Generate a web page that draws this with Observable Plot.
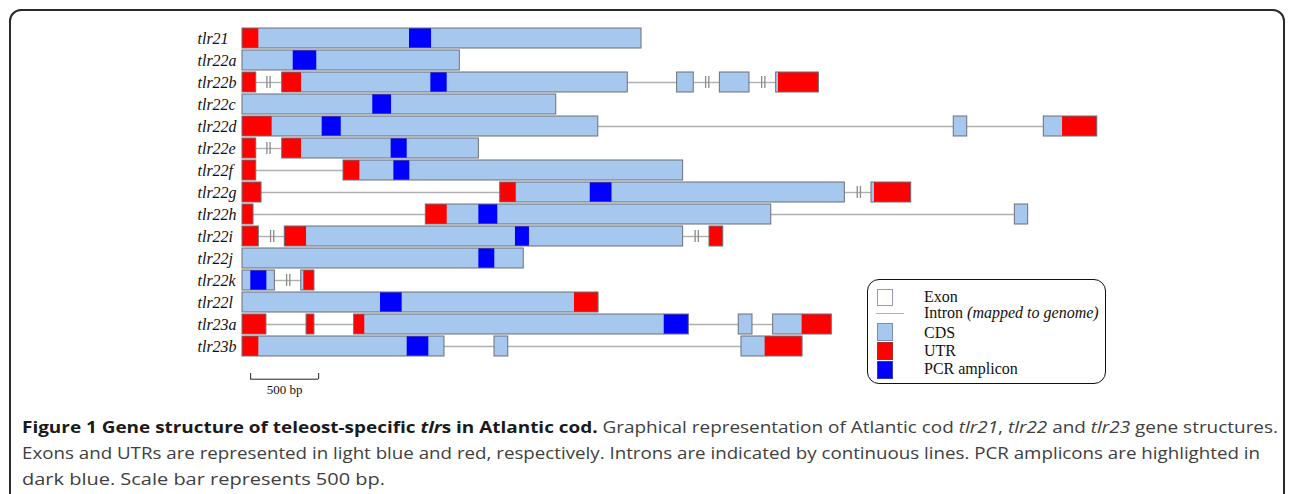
<!DOCTYPE html>
<html><head><meta charset="utf-8">
<script src="https://cdn.jsdelivr.net/npm/d3@7"></script>
<script src="https://cdn.jsdelivr.net/npm/@observablehq/plot@0.6"></script>
<style>
html,body{margin:0;padding:0;background:#fff;}
body{width:1290px;height:494px;overflow:hidden;position:relative;}
#frame{position:absolute;left:9px;top:9px;width:1276px;height:600px;border:2px solid #2a2a2a;border-radius:12px;box-sizing:border-box;}
#chart{position:absolute;left:0;top:0;}
#legend{position:absolute;left:867px;top:279px;width:239px;height:105px;border:1.6px solid #111;border-radius:12px;box-sizing:border-box;font-family:"Liberation Serif",serif;font-size:16px;color:#111;}
#legend .sw{position:absolute;left:9px;width:16px;box-sizing:border-box;}
#legend .tx{position:absolute;left:56px;line-height:18px;white-space:nowrap;}
#caption{position:absolute;left:22px;top:414px;font-family:"Open Sans",sans-serif;font-size:16px;line-height:26px;color:#404040;}
#caption div{white-space:nowrap;transform-origin:0 50%;}
#caption b{color:#1a1a1a;}
</style>
</head><body>
<div id="frame"></div>
<div id="chart"></div>
<div id="legend"></div>
<div id="caption"></div>
<script>
// gene rows (top to bottom)
const genes = ["tlr21","tlr22a","tlr22b","tlr22c","tlr22d","tlr22e","tlr22f","tlr22g","tlr22h","tlr22i","tlr22j","tlr22k","tlr22l","tlr23a","tlr23b"];

// exons: [gene, start bp, end bp]
const exons = [
  ["tlr21",0,2934],
  ["tlr22a",0,1598],
  ["tlr22b",0,101],["tlr22b",292,2833],["tlr22b",3196,3318],["tlr22b",3510,3728],["tlr22b",3924,4238],
  ["tlr22c",0,2307],
  ["tlr22d",0,2616],["tlr22d",5230,5329],["tlr22d",5892,6285],
  ["tlr22e",0,101],["tlr22e",292,1738],
  ["tlr22f",0,101],["tlr22f",743,3240],
  ["tlr22g",0,140],["tlr22g",1895,4429],["tlr22g",4625,4917],
  ["tlr22h",0,81],["tlr22h",1348,3888],["tlr22h",5679,5777],
  ["tlr22i",0,120],["tlr22i",311,3240],["tlr22i",3434,3535],
  ["tlr22j",0,2068],
  ["tlr22k",0,238],["tlr22k",432,529],
  ["tlr22l",0,2618],
  ["tlr23a",0,176],["tlr23a",471,529],["tlr23a",821,3282],["tlr23a",3649,3750],["tlr23a",3902,4333],
  ["tlr23b",0,1485],["tlr23b",1853,1954],["tlr23b",3669,4118]
];

// UTR segments: [gene, start, end]
const utrs = [
  ["tlr21",0,120],
  ["tlr22b",0,101],["tlr22b",292,434],["tlr22b",3941,4238],
  ["tlr22d",0,218],["tlr22d",6030,6285],
  ["tlr22e",0,101],["tlr22e",292,434],
  ["tlr22f",0,101],["tlr22f",743,863],
  ["tlr22g",0,140],["tlr22g",1895,2013],["tlr22g",4647,4917],
  ["tlr22h",0,81],["tlr22h",1348,1505],
  ["tlr22i",0,120],["tlr22i",311,471],["tlr22i",3434,3535],
  ["tlr22k",451,529],
  ["tlr22l",2441,2618],
  ["tlr23a",0,176],["tlr23a",471,529],["tlr23a",821,899],["tlr23a",4115,4333],
  ["tlr23b",0,120],["tlr23b",3843,4118]
];

// PCR amplicons: [gene, start, end]
const amplicons = [
  ["tlr21",1228,1390],["tlr22a",373,546],["tlr22b",1385,1505],["tlr22c",958,1096],
  ["tlr22d",586,726],["tlr22e",1093,1211],["tlr22f",1113,1230],["tlr22g",2557,2717],
  ["tlr22h",1738,1877],["tlr22i",2007,2110],["tlr22j",1738,1855],["tlr22k",61,179],
  ["tlr22l",1015,1174],["tlr23a",3101,3282],["tlr23b",1211,1370]
];

// unmapped intron breaks: [gene, position]
const breaks = [
  ["tlr22b",191],["tlr22b",3417],["tlr22b",3829],
  ["tlr22e",191],
  ["tlr22g",4532],
  ["tlr22i",218],["tlr22i",3340],
  ["tlr22k",336]
];

const scaleBar = [{start:60, end:560, label:"500 bp"}];
const xMax = 7706;

const toObj = a => ({gene:a[0], start:a[1], end:a[2]});
const exonData = exons.map(toObj);
const utrData = utrs.map(toObj);
const pcrData = amplicons.map(toObj);
const breakData = breaks.map(a => ({gene:a[0], pos:a[1]}));
const introns = [];
for (const g of genes) {
  const ex = exonData.filter(d => d.gene === g).sort((a,b)=>a.start-b.start);
  for (let i = 1; i < ex.length; i++) introns.push({gene:g, start:ex[i-1].end, end:ex[i].start});
}

const H = 400;
const plot = Plot.plot({
  width: 1290, height: H,
  marginLeft: 242, marginRight: 0, marginTop: 24.1, marginBottom: H - 24.1 - 16*22.4,
  x: {domain: [0, xMax], axis: null},
  y: {domain: [...genes, "scale"], paddingInner: 0.1, paddingOuter: 0.05, axis: null},
  marks: [
    Plot.ruleY(introns, {x1:"start", x2:"end", y:"gene", stroke:"#b0b0b0", strokeWidth:1.4}),
    Plot.tickX(breakData, {x:"pos", y:"gene", stroke:"#8a8a8a", strokeWidth:1.3, insetTop:4, insetBottom:4, dx:-1.6}),
    Plot.tickX(breakData, {x:"pos", y:"gene", stroke:"#8a8a8a", strokeWidth:1.3, insetTop:4, insetBottom:4, dx:1.6}),
    Plot.barX(exonData, {x1:"start", x2:"end", y:"gene", fill:"#a7c8ee", insetLeft:0, insetRight:0}),
    Plot.barX(utrData, {x1:"start", x2:"end", y:"gene", fill:"#ff0000"}),
    Plot.barX(pcrData, {x1:"start", x2:"end", y:"gene", fill:"#0000ff"}),
    Plot.barX(exonData, {x1:"start", x2:"end", y:"gene", fill:"none", stroke:"#6b6f78", strokeWidth:1}),
    Plot.text(genes, {y: d => d, text: d => d, frameAnchor:"left", textAnchor:"start", dx:-45,
      fontFamily:"Liberation Serif", fontStyle:"italic", fontSize:16, fill:"#111"}),
    Plot.ruleY(scaleBar, {x1:"start", x2:"end", y:() => "scale", dy:10.7, stroke:"#222", strokeWidth:1}),
    Plot.tickX(scaleBar, {x:"start", y:() => "scale", insetTop:14, insetBottom:0, dy:1, stroke:"#222"}),
    Plot.tickX(scaleBar, {x:"end", y:() => "scale", insetTop:14, insetBottom:0, dy:1, stroke:"#222"}),
    Plot.text(scaleBar, {x: d => (d.start + d.end)/2, y: () => "scale", text:"label", dy:21,
      fontFamily:"Liberation Serif", fontSize:13, fill:"#111"})
  ]
});
document.getElementById("chart").appendChild(plot);

// legend
const lg = document.getElementById("legend");
const rows = [
  {sw:"border:1.5px solid #8e9cc4;background:#fff;top:9px;height:17px;", ty:8, html:"Exon"},
  {sw:"border-top:1.4px solid #b4b4b4;top:33px;height:0;left:8px;width:28px;", ty:24, html:"Intron <i>(mapped to genome)</i>"},
  {sw:"border:1.2px solid #7f8ea8;background:#a7c8ee;top:43px;height:18px;", ty:44, html:"CDS"},
  {sw:"border:1px solid #a03030;background:#ff0000;top:62px;height:18px;", ty:62, html:"UTR"},
  {sw:"border:1px solid #3040a0;background:#0000ff;top:81px;height:18px;", ty:80, html:"PCR amplicon"}
];
rows.forEach(r => {
  const s = document.createElement("div"); s.className = "sw"; s.style.cssText = r.sw; lg.appendChild(s);
  const t = document.createElement("div"); t.className = "tx"; t.style.top = r.ty + "px"; t.innerHTML = r.html; lg.appendChild(t);
});

// caption
const captionLines = [
  '<b>Figure 1 Gene structure of teleost-specific <i>tlr</i>s in Atlantic cod.</b> Graphical representation of Atlantic cod <i>tlr21</i>, <i>tlr22</i> and <i>tlr23</i> gene structures.',
  'Exons and UTRs are represented in light blue and red, respectively. Introns are indicated by continuous lines. PCR amplicons are highlighted in',
  'dark blue. Scale bar represents 500 bp.'
];
const captionWidths = [1256, 1238, 363];
const cap = document.getElementById("caption");
captionLines.forEach((h, i) => {
  const d = document.createElement("div");
  const sp = document.createElement("span"); sp.innerHTML = h; sp.style.whiteSpace = "nowrap";
  d.appendChild(sp); cap.appendChild(d);
  const w = sp.getBoundingClientRect().width;
  d.style.transform = `scaleX(${captionWidths[i] / w})`;
});
</script>
</body></html>
